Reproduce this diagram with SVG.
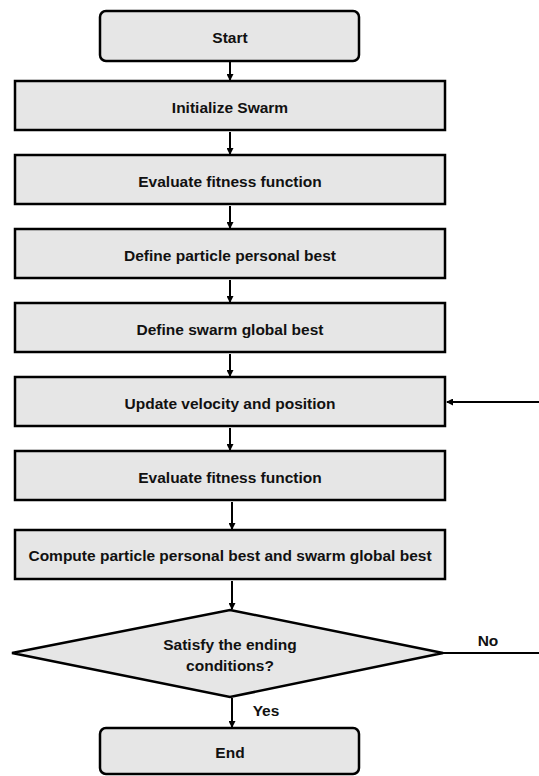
<svg xmlns="http://www.w3.org/2000/svg" width="539" height="776" viewBox="0 0 539 776">
<style>
.box{fill:#e6e6e6;stroke:#000;stroke-width:2.5}
.t{font-family:"Liberation Sans",Arial,sans-serif;font-weight:bold;font-size:15.5px;fill:#111;text-anchor:middle}
.c{stroke:#000;stroke-width:2;fill:none}
</style>
<defs>
<marker id="ah" markerWidth="7" markerHeight="7" refX="6" refY="3.5" orient="auto" markerUnits="userSpaceOnUse">
<path d="M0,0 L7,3.5 L0,7 Z" fill="#000"/>
</marker>
</defs>
<rect width="539" height="776" fill="#fff"/>
<g id="connectors">
<line class="c" x1="230" y1="62" x2="230" y2="80" marker-end="url(#ah)"/>
<line class="c" x1="230" y1="132" x2="230" y2="154" marker-end="url(#ah)"/>
<line class="c" x1="230" y1="206" x2="230" y2="228" marker-end="url(#ah)"/>
<line class="c" x1="230" y1="280" x2="230" y2="302" marker-end="url(#ah)"/>
<line class="c" x1="230" y1="354" x2="230" y2="376" marker-end="url(#ah)"/>
<line class="c" x1="230" y1="428" x2="230" y2="450" marker-end="url(#ah)"/>
<line class="c" x1="232" y1="502" x2="232" y2="529" marker-end="url(#ah)"/>
<line class="c" x1="232" y1="581" x2="232" y2="609" marker-end="url(#ah)"/>
<line class="c" x1="232" y1="698" x2="232" y2="727" marker-end="url(#ah)"/>
<line class="c" x1="443" y1="653" x2="539" y2="653"/>
<line class="c" x1="539" y1="402" x2="447" y2="402" marker-end="url(#ah)"/>
<text class="t" x="488" y="645.5">No</text>
<text class="t" x="266" y="715.5">Yes</text>
</g>
<g id="start">
<rect class="box" x="100" y="11" width="259" height="50" rx="6"/>
<text class="t" x="230" y="42.5">Start</text>
</g>
<g id="init">
<rect class="box" x="15" y="81" width="430" height="49"/>
<text class="t" x="230" y="113">Initialize Swarm</text>
</g>
<g id="eval1">
<rect class="box" x="15" y="155" width="430" height="49"/>
<text class="t" x="230" y="187">Evaluate fitness function</text>
</g>
<g id="pbest">
<rect class="box" x="15" y="229" width="430" height="49"/>
<text class="t" x="230" y="261">Define particle personal best</text>
</g>
<g id="gbest">
<rect class="box" x="15" y="303" width="430" height="49"/>
<text class="t" x="230" y="335">Define swarm global best</text>
</g>
<g id="update">
<rect class="box" x="15" y="377" width="430" height="49"/>
<text class="t" x="230" y="409">Update velocity and position</text>
</g>
<g id="eval2">
<rect class="box" x="15" y="451" width="430" height="49"/>
<text class="t" x="230" y="483">Evaluate fitness function</text>
</g>
<g id="compute">
<rect class="box" x="15" y="530" width="430" height="49"/>
<text class="t" x="230" y="561">Compute particle personal best and swarm global best</text>
</g>
<g id="decision">
<polygon class="box" points="230,610 443,653 230,697 12,653"/>
<text class="t" x="230" y="649.5">Satisfy the ending</text>
<text class="t" x="230" y="670.5">conditions?</text>
</g>
<g id="end">
<rect class="box" x="100" y="728" width="259" height="46" rx="6"/>
<text class="t" x="230" y="758">End</text>
</g>
</svg>
